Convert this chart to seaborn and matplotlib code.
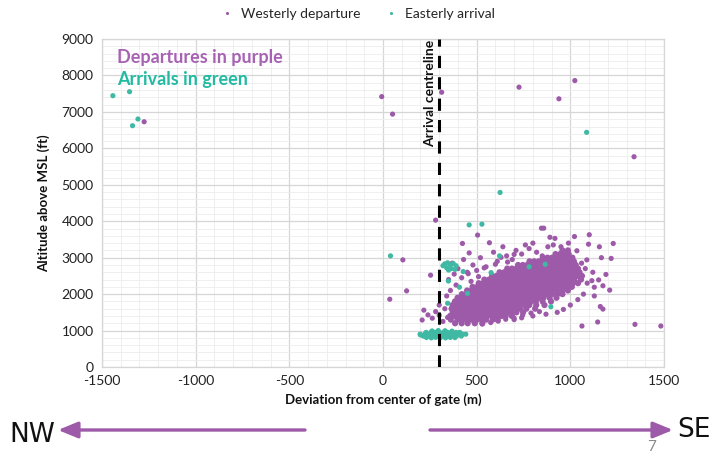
import matplotlib
matplotlib.use("Agg")
import matplotlib.pyplot as plt
from matplotlib.ticker import MultipleLocator
import numpy as np
import pandas as pd
import seaborn as sns

PURPLE = "#9d5aa8"
GREEN = "#3fb9a3"
TXT_PURPLE = "#a862b4"
TXT_GREEN = "#22bba2"

# dense core of westerly departures: altitude (ft) -> deviations (m)
dep_rows = {
    1200: [385, 420, 452, 490, 530],
    1300: [362, 398, 425, 447, 474, 503, 528, 551, 586, 612],
    1400: [358, 383, 409, 436, 458, 482, 507, 534, 556, 579, 604, 633, 655, 688],
    1500: [372, 396, 421, 447, 470, 493, 519, 541, 566, 592, 615, 638, 664, 689, 712, 748],
    1600: [366, 391, 414, 440, 463, 487, 512, 536, 559, 583, 608, 631, 657, 680, 706, 731, 765, 812],
    1700: [371, 393, 418, 442, 467, 489, 514, 538, 562, 585, 611, 634, 659, 683, 707, 732, 756, 781, 818, 862],
    1800: [384, 407, 431, 454, 480, 503, 527, 551, 574, 598, 623, 647, 671, 694, 718, 743, 767, 791, 816, 852, 897],
    1900: [398, 423, 447, 470, 494, 519, 542, 566, 590, 613, 638, 662, 686, 709, 733, 758, 782, 806, 831, 856, 889, 926],
    2000: [421, 446, 469, 493, 517, 541, 565, 588, 612, 637, 660, 684, 708, 731, 756, 780, 803, 828, 852, 877, 902, 931, 958],
    2100: [449, 473, 497, 520, 545, 569, 592, 616, 641, 664, 688, 712, 736, 760, 783, 807, 832, 856, 880, 904, 929, 957, 987],
    2200: [478, 503, 527, 551, 574, 598, 622, 646, 670, 694, 717, 741, 765, 789, 813, 837, 861, 885, 909, 933, 958, 983, 1008],
    2300: [511, 536, 559, 583, 607, 631, 655, 679, 702, 726, 750, 774, 798, 822, 846, 870, 894, 918, 941, 966, 990, 1014, 1041],
    2400: [541, 566, 590, 613, 637, 661, 685, 709, 733, 757, 781, 805, 829, 853, 876, 900, 924, 948, 972, 996, 1021, 1057],
    2500: [582, 606, 630, 654, 678, 702, 726, 749, 773, 797, 821, 845, 869, 893, 917, 941, 965, 989, 1013, 1037, 1062],
    2600: [622, 647, 671, 694, 718, 742, 766, 790, 814, 838, 862, 886, 910, 934, 958, 982, 1006, 1031, 1049],
    2700: [663, 688, 712, 736, 760, 784, 808, 832, 856, 880, 904, 928, 952, 976, 1000, 1023, 1041],
    2800: [721, 746, 770, 794, 818, 842, 866, 890, 914, 938, 962, 986, 1008, 1029],
    2900: [782, 807, 831, 855, 879, 903, 927, 951, 975, 998, 1019],
    3000: [853, 878, 902, 926, 950, 973, 994, 1011],
    3100: [921, 946, 970, 991],
    3200: [958, 987],
}

# scattered departures
dep_x = [-1275, -7, 51, 313, 726, 1024, 939, 1340,
         281, 106, 126, 36, 254, 846, 858, 891, 918, 909, 1022, 1101, 1097, 1155, 1229,
         1166, 1218, 1035, 1088, 1190, 1115, 1151, 1128, 1128, 1174, 1210, 1160, 1174,
         963, 1062, 1146, 1345, 1483,
         218, 209, 263, 281, 300, 240, 320, 300, 330, 345,
         424, 505, 568, 460, 370, 400, 430, 480, 520, 550, 590, 610, 640, 660, 690, 710,
         740, 760, 780, 820, 850, 800, 880, 950, 990, 350, 380, 420, 450, 500, 390, 360,
         340, 930, 870, 800, 740, 700, 1000, 1040, 1070, 1090, 1080, 1060, 1120,
         530, 575, 615, 655, 700, 745, 790, 835, 470, 510, 455, 540, 600, 665, 630, 700]
dep_y = [6730, 7420, 6940, 7540, 7680, 7860, 7360, 5770,
         4030, 2940, 2090, 1860, 2520, 3810, 3810, 3560, 3530, 3350, 3580, 3630, 3370, 3300, 3390,
         3000, 2980, 3190, 2940, 2540, 2370, 2390, 2190, 1950, 2230, 2110, 1660, 1590,
         1580, 1125, 1235, 1170, 1125,
         1560, 1290, 1340, 1520, 1700, 1430, 1250, 1420, 1600, 1360,
         3390, 3620, 3410, 3130, 2850, 2700, 2950, 2800, 3000, 2750, 3150, 2900, 3300, 3050, 2950, 3200,
         3100, 3350, 3250, 3150, 3050, 3400, 3300, 3300, 3400, 2400, 2550, 2450, 2600, 2650, 2250, 2100,
         1950, 1500, 1450, 1400, 1350, 1300, 1700, 1850, 2000, 2300, 2700, 2850, 2600,
         1180, 1220, 1260, 1310, 1340, 1420, 1480, 1520, 2350, 2480, 2560, 2720, 2820, 2880, 3010, 3090]

# easterly arrivals
arr_x = [-1442, -1353, -1308, -1337, 1087, 625, 460, 528, 40, 780, 866, 622, 577, 451,
         896, 349, 408, 345, 428,
         320, 330, 345, 360, 375, 390, 340, 365, 385, 350,
         232, 258, 281, 307, 334, 359, 384,
         200, 215, 240, 262, 285, 305, 326, 348, 370, 392, 418,
         198, 222, 246, 268, 290, 312, 334, 356, 378, 401, 425, 442,
         230, 255, 278, 300, 322, 345, 367, 390, 410,
         262, 295, 331, 368]
arr_y = [7445, 7555, 6806, 6622, 6440, 4790, 3900, 3920, 3050, 2750, 2820, 3050, 2590, 2020,
         1655, 2360, 2190, 1750, 2620,
         2780, 2830, 2860, 2800, 2840, 2780, 2720, 2700, 2680, 2660,
         810, 800, 815, 805, 800, 812, 806,
         880, 850, 850, 850, 850, 850, 850, 850, 850, 850, 850,
         900, 900, 900, 900, 900, 900, 900, 900, 900, 900, 900, 900,
         950, 950, 950, 950, 950, 950, 950, 950, 950,
         990, 1000, 995, 985]

centreline_x = 300

core_x = [x for alt, xs in dep_rows.items() for x in xs]
core_y = [alt for alt, xs in dep_rows.items() for x in xs]

core = pd.DataFrame({"dev": core_x, "alt": core_y, "kind": "Westerly departure"})
df = pd.concat([
    pd.DataFrame({"dev": dep_x, "alt": dep_y, "kind": "Westerly departure"}),
    pd.DataFrame({"dev": arr_x, "alt": arr_y, "kind": "Easterly arrival"}),
], ignore_index=True)
palette = {"Westerly departure": PURPLE, "Easterly arrival": GREEN}

sns.set_theme(style="white")
plt.rcParams["font.family"] = ["Lato", "DejaVu Sans"]
plt.rcParams["axes.unicode_minus"] = False

fig = plt.figure(figsize=(7.26, 4.54), dpi=100)
ax = fig.add_axes([0.1405, 0.1916, 0.7741, 0.7224])

# dense core drawn first with slightly bigger dots so it reads as a solid blob
sns.scatterplot(data=core, x="dev", y="alt", hue="kind", palette=palette,
                s=20, linewidth=0, ax=ax, legend=False, zorder=3)
sns.scatterplot(data=df, x="dev", y="alt", hue="kind", palette=palette,
                s=14, linewidth=0, ax=ax, legend=True, zorder=3)

ax.set_xlim(-1500, 1500)
ax.set_ylim(0, 9000)
ax.xaxis.set_major_locator(MultipleLocator(500))
ax.yaxis.set_major_locator(MultipleLocator(1000))
ax.xaxis.set_minor_locator(MultipleLocator(100))
ax.yaxis.set_minor_locator(MultipleLocator(200))
ax.grid(which="major", color="#d6d6d6", linewidth=0.9)
ax.grid(which="minor", color="#ededed", linewidth=0.6)
ax.set_axisbelow(True)
ax.tick_params(which="both", length=0, labelsize=10, colors="#222222", pad=6)
for sp in ax.spines.values():
    sp.set_color("#d6d6d6")
    sp.set_linewidth(0.9)

ax.set_xlabel("Deviation from center of gate (m)", fontsize=9.5, fontweight="bold", color="#111111", labelpad=4)
ax.set_ylabel("Altitude above MSL (ft)", fontsize=9.5, fontweight="bold", color="#111111", labelpad=8)

ax.axvline(centreline_x, color="black", linewidth=2.2, linestyle=(0, (4, 3)), zorder=4)
ax.text(centreline_x - 18, 8980, "Arrival centreline", rotation=90, ha="right", va="top",
        fontsize=10, fontweight="bold", color="#111111")

ax.text(-1420, 8340, "Departures in purple", fontsize=13, fontweight="bold", color=TXT_PURPLE)
ax.text(-1420, 7740, "Arrivals in green", fontsize=13, fontweight="bold", color=TXT_GREEN)

handles, labels = ax.get_legend_handles_labels()
ax.get_legend().remove()
fig.legend(handles, labels, loc="upper center", bbox_to_anchor=(0.488, 1.01), ncol=2,
           frameon=False, fontsize=10, markerscale=0.6, handletextpad=0.0, columnspacing=1.2)

# direction arrows below the chart
arrow_kw = dict(arrowstyle="-|>,head_length=0.85,head_width=0.35", color=PURPLE, lw=2.4,
                mutation_scale=14, shrinkA=0, shrinkB=0)
ax.annotate("", xy=(58, 24), xytext=(305, 24), xycoords="figure pixels",
            textcoords="figure pixels", arrowprops=arrow_kw)
ax.annotate("", xy=(673, 24), xytext=(430, 24), xycoords="figure pixels",
            textcoords="figure pixels", arrowprops=arrow_kw)
fig.text(9 / 726, 19 / 454, "NW", fontsize=19, va="center", ha="left", color="#111111",
         family=["Liberation Sans Narrow", "DejaVu Sans"])
fig.text(677 / 726, 24 / 454, "SE", fontsize=19, va="center", ha="left", color="#111111",
         family=["Liberation Sans Narrow", "DejaVu Sans"])
fig.text(652 / 726, 7 / 454, "7", fontsize=11, va="center", ha="center", color="#8a8a8a")

fig.savefig("out.png", dpi=100, facecolor="white")
